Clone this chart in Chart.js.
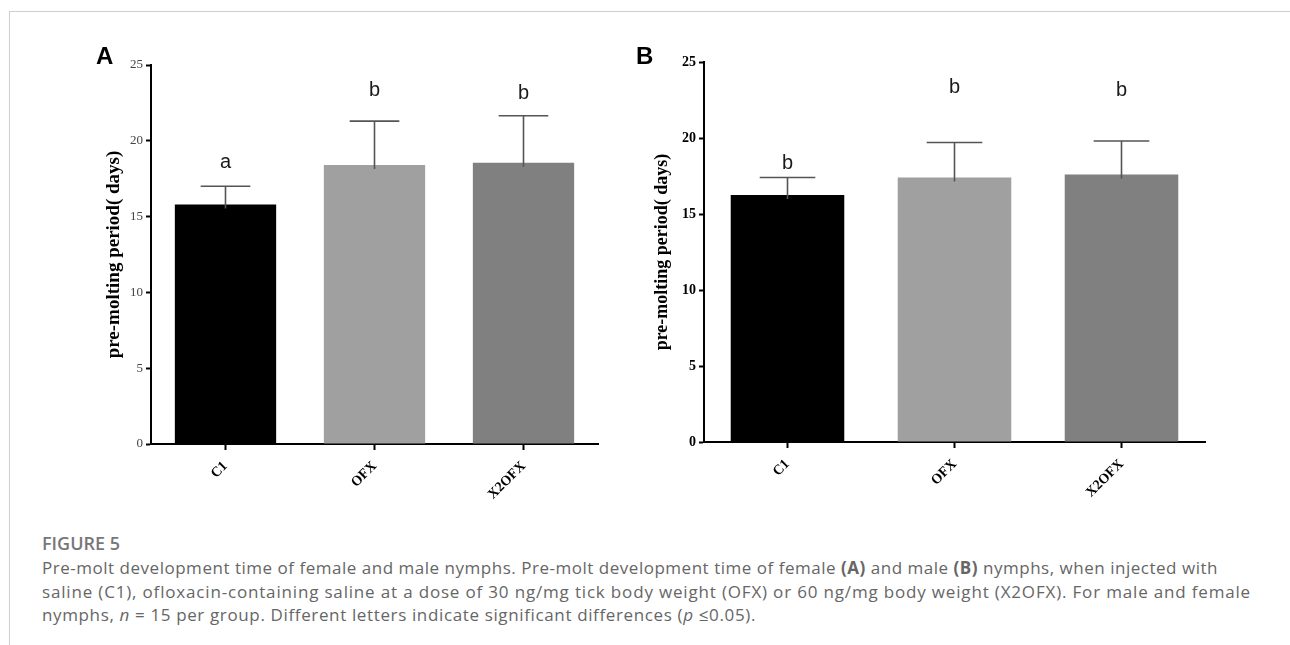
<!DOCTYPE html>
<html>
<head>
<meta charset="utf-8">
<script src="https://cdn.jsdelivr.net/npm/chart.js@4"></script>
<style>
  body { margin: 0; background: #fff; width: 1290px; height: 645px; overflow: hidden; position: relative; }
  .frame { position: absolute; left: 9px; top: 11px; right: 0; bottom: 0; border-left: 1px solid #cfcfcf; border-top: 1px solid #cfcfcf; }
  .panel { position: absolute; top: 0; }
  .tag { position: absolute; font-family: "Liberation Sans", Arial, sans-serif; font-weight: bold; font-size: 24px; color: #000; }
  .fig { position: absolute; left: 42px; top: 531px; font-family: "Open Sans", sans-serif; font-weight: 600; font-size: 18px; line-height: 24px; color: #777; }
  .cap { position: absolute; left: 42px; font-family: "Open Sans", sans-serif; font-size: 17px; line-height: 23.5px; color: #666; white-space: nowrap; }
</style>
</head>
<body>
<div class="frame"></div>
<div class="panel" style="left:0px"><canvas id="chartA" width="640" height="520"></canvas></div>
<div class="panel" style="left:600px"><canvas id="chartB" width="690" height="520"></canvas></div>
<div class="tag" style="left:96px; top:42px">A</div>
<div class="tag" style="left:636px; top:42px">B</div>
<div class="fig">FIGURE 5</div>
<div class="cap" style="top:556px"><span>Pre-molt development time of female and male nymphs. Pre-molt development time of female <b>(A)</b> and male <b>(B)</b> nymphs, when injected with</span></div>
<div class="cap" style="top:579.5px"><span>saline (C1), ofloxacin-containing saline at a dose of 30 ng/mg tick body weight (OFX) or 60 ng/mg body weight (X2OFX). For male and female</span></div>
<div class="cap" style="top:603px"><span>nymphs, <i>n</i> = 15 per group. Different letters indicate significant differences (<i>p</i> &le;0.05).</span></div>
<script>
// groups and values (days)
var categories = ['C1', 'OFX', 'X2OFX'];
var femaleMeans = [15.8, 18.4, 18.55];
var femaleSD = [1.2, 2.9, 3.1];
var femaleLetters = ['a', 'b', 'b'];
var femaleLetterAt = [18.6, 23.35, 23.15];
var maleMeans = [16.25, 17.4, 17.6];
var maleSD = [1.15, 2.3, 2.2];
var maleLetters = ['b', 'b', 'b'];
var maleLetterAt = [18.35, 23.35, 23.15];
var yTicks = [0, 5, 10, 15, 20, 25];
var barColors = ['#000000', '#a0a0a0', '#808080'];

// caption lines stretched to the widths they have in the figure
var captionWidths = [1176, 1209, 714];
document.querySelectorAll('.cap span').forEach(function(span, i) {
    let natural = span.getBoundingClientRect().width;
    let n = span.textContent.length;
    span.style.letterSpacing = ((captionWidths[i] - natural) / n) + 'px';
});

var errorBars = {
    id: 'errorBars',
    afterDatasetsDraw: function(chart, args, opts) {
        let ctx = chart.ctx;
        let y = chart.scales.y;
        let meta = chart.getDatasetMeta(0);
        ctx.save();
        ctx.strokeStyle = '#555';
        ctx.lineWidth = 1.6;
        meta.data.forEach(function(bar, i) {
            let top = y.getPixelForValue(opts.means[i] + opts.sd[i]);
            let base = y.getPixelForValue(opts.means[i]);
            let half = bar.width * 0.245;
            ctx.beginPath();
            ctx.moveTo(bar.x, base + 4);
            ctx.lineTo(bar.x, top);
            ctx.moveTo(bar.x - half, top);
            ctx.lineTo(bar.x + half, top);
            ctx.stroke();
        });
        ctx.fillStyle = '#1a1a1a';
        ctx.font = '20px "Liberation Sans", Arial, sans-serif';
        ctx.textAlign = 'center';
        ctx.textBaseline = 'middle';
        meta.data.forEach(function(bar, i) {
            ctx.fillText(opts.letters[i], bar.x, y.getPixelForValue(opts.letterAt[i]));
        });
        ctx.restore();
    }
};

var makePanel = function(id, means, sd, letters, letterAt, look) {
    let ctx = document.getElementById(id);
    return new Chart(ctx, {
        type: 'bar',
        data: {
            labels: categories,
            datasets: [{
                data: means,
                backgroundColor: barColors,
                borderWidth: 0,
                barPercentage: 0.68,
                categoryPercentage: 1
            }]
        },
        plugins: [errorBars],
        options: {
            responsive: false,
            animation: false,
            layout: { padding: look.padding },
            plugins: {
                legend: { display: false },
                tooltip: { enabled: false },
                errorBars: { means: means, sd: sd, letters: letters, letterAt: letterAt }
            },
            scales: {
                x: {
                    afterFit: (scale) => { scale.height = 60; },
                    border: { color: '#000', width: 2 },
                    grid: { drawOnChartArea: false, offset: false, tickLength: 6, tickColor: '#000', tickWidth: 2 },
                    ticks: {
                        color: '#000',
                        minRotation: 45,
                        maxRotation: 45,
                        autoSkip: false,
                        padding: 8,
                        font: { family: '"Liberation Serif", "Times New Roman", serif', size: 14, weight: 'bold' }
                    }
                },
                y: {
                    min: 0,
                    max: 25,
                    afterFit: (scale) => { scale.width = 70; },
                    afterBuildTicks: (scale) => { scale.ticks = yTicks.map(v => ({ value: v })); },
                    border: { color: '#000', width: 2 },
                    grid: { drawOnChartArea: false, tickLength: 5, tickColor: '#000', tickWidth: 2 },
                    ticks: {
                        color: look.tickColor,
                        padding: 3,
                        font: { family: '"Liberation Serif", "Times New Roman", serif', size: look.tickSize, weight: look.tickWeight }
                    },
                    title: {
                        display: true,
                        text: 'pre-molting period( days)',
                        color: '#000',
                        padding: { top: look.titlePad, bottom: 0 },
                        font: { family: '"Liberation Serif", "Times New Roman", serif', size: look.titleSize, weight: 'bold' }
                    }
                }
            }
        }
    });
};

makePanel('chartA', femaleMeans, femaleSD, femaleLetters, femaleLetterAt, {
    padding: { left: 81, right: 42, top: 65, bottom: 16 },
    tickColor: '#444', tickSize: 13, tickWeight: 'normal', titleSize: 19, titlePad: 22
});
makePanel('chartB', maleMeans, maleSD, maleLetters, maleLetterAt, {
    padding: { left: 34, right: 85, top: 62, bottom: 18 },
    tickColor: '#000', tickSize: 14, tickWeight: 'bold', titleSize: 18, titlePad: 18
});
</script>
</body>
</html>
